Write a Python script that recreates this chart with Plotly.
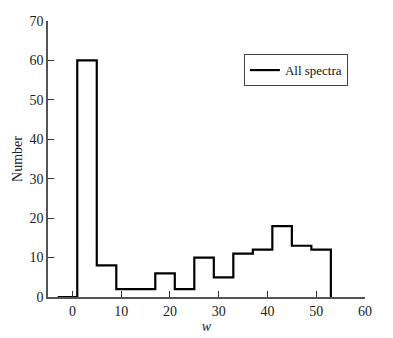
import plotly.graph_objects as go

# Histogram bin edges (left edges) and counts
bin_left_edges = [-3, 1, 5, 9, 13, 17, 21, 25, 29, 33, 37, 41, 45, 49]
bin_right_end = 53
counts = [0, 60, 8, 2, 2, 6, 2, 10, 5, 11, 12, 18, 13, 12]

x_ticks = [0, 10, 20, 30, 40, 50, 60]
y_ticks = [0, 10, 20, 30, 40, 50, 60, 70]

xs = bin_left_edges + [bin_right_end]
ys = counts + [0]

fig = go.Figure()
fig.add_trace(go.Scatter(
    x=xs, y=ys, mode="lines", line_shape="hv",
    line=dict(color="black", width=2.2),
    name="All spectra",
))

serif = "Liberation Serif, Times New Roman, serif"
font = dict(family=serif, size=14, color="#222")

# page body has an 8px default margin, so the figure is sized to fit the window
fig.update_layout(
    width=385, height=330,
    margin=dict(l=40, r=28, t=13, b=41),
    paper_bgcolor="white", plot_bgcolor="white",
    font=font,
    showlegend=True,
    legend=dict(
        x=0.618, y=0.88, xanchor="left", yanchor="top",
        bordercolor="#444", borderwidth=1, bgcolor="white",
        font=dict(family=serif, size=13, color="#111"),
        itemwidth=30, tracegroupgap=0,
    ),
    xaxis=dict(
        range=[-5, 60], tickvals=x_ticks, showgrid=False, zeroline=False,
        showline=True, linecolor="#555", linewidth=1.5,
        ticks="inside", ticklen=6, tickcolor="#333", tickwidth=1.2,
        automargin=False,
        title=dict(text="<i>w</i>", standoff=4, font=dict(size=14)),
    ),
    yaxis=dict(
        range=[0, 70], tickvals=y_ticks, showgrid=False, zeroline=False,
        showline=True, linecolor="#555", linewidth=1.5,
        ticks="inside", ticklen=6, tickcolor="#333", tickwidth=1.2,
        automargin=False,
        title=dict(text="Number", standoff=4, font=dict(size=14)),
    ),
)

fig.write_html("out.html")
